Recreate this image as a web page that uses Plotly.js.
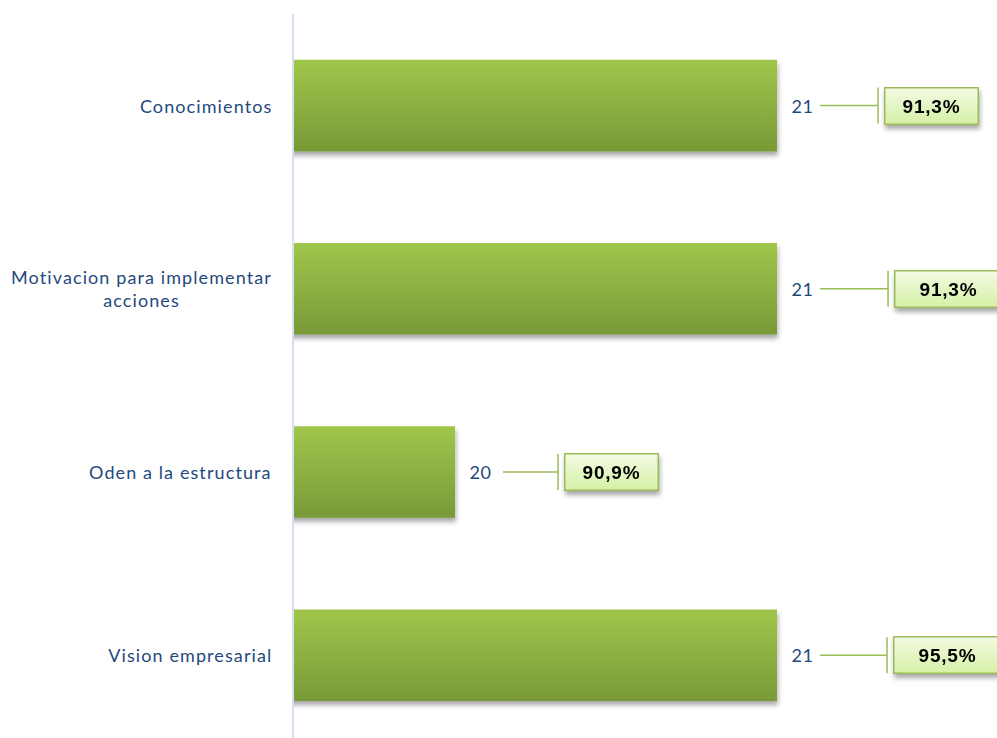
<!DOCTYPE html>
<html>
<head>
<meta charset="utf-8">
<script src="https://cdn.plot.ly/plotly-3.0.1.min.js"></script>
<style>
  html, body { margin: 0; padding: 0; background: #ffffff; overflow: hidden; }
  #chart { width: 997px; height: 738px; }
</style>
</head>
<body>
<div id="chart"></div>
<script>
// ---- data ----
const categories = ['Conocimientos', 'Motivacion para implementar<br>acciones', 'Oden a la estructura', 'Vision empresarial'];
const counts = [21, 21, 20, 21];
const percents = ['91,3%', '91,3%', '90,9%', '95,5%'];

// ---- style / position offsets (pixels from bar end) ----
const lineStartPx = [43, 43, 48, 43];
const tickPx = [101, 111, 103, 110];
const boxWidths = [90, 104, 90, 104];
const boxGapPx = 6;

const idx = categories.map((c, i) => i);
const green = '#9BBB59';
const labelColor = '#1F497D';

const trace = {
  type: 'bar',
  orientation: 'h',
  x: counts,
  y: idx,
  width: 0.5,
  marker: { color: '#8DB042', line: { width: 0 } },
  hoverinfo: 'skip'
};

const annotations = [];
const shapes = [];

categories.forEach((c, i) => {
  // category labels
  annotations.push({
    xref: 'paper', yref: 'y', x: 0, y: i,
    xanchor: 'right', yanchor: 'middle', xshift: -20,
    text: c, showarrow: false, align: 'center',
    font: { family: 'Lato, "Open Sans", sans-serif', size: 18, color: labelColor }
  });
  // value labels
  annotations.push({
    xref: 'x', yref: 'y', x: counts[i], y: i,
    xanchor: 'left', yanchor: 'middle', xshift: 13,
    text: String(counts[i]), showarrow: false,
    font: { family: 'Lato, "Open Sans", sans-serif', size: 18, color: labelColor }
  });
  // leader line
  shapes.push({
    type: 'line', xref: 'x', yref: 'y', xsizemode: 'pixel',
    xanchor: counts[i], x0: lineStartPx[i], x1: tickPx[i],
    y0: i, y1: i,
    line: { color: green, width: 1.5 }
  });
  // vertical tick
  shapes.push({
    type: 'line', xref: 'x', yref: 'y', xsizemode: 'pixel', ysizemode: 'pixel',
    xanchor: counts[i], x0: tickPx[i], x1: tickPx[i],
    yanchor: i, y0: -18, y1: 18,
    line: { color: green, width: 1.5 }
  });
  // percentage callout box
  annotations.push({
    xref: 'x', yref: 'y', x: counts[i], y: i,
    xanchor: 'left', yanchor: 'middle', xshift: tickPx[i] + boxGapPx,
    text: '<b>' + percents[i] + '</b>', showarrow: false,
    width: boxWidths[i], height: 33, borderpad: 1, borderwidth: 1.5,
    bordercolor: green, bgcolor: '#E2F5BF', align: 'center',
    font: { family: 'Arial, "Liberation Sans", sans-serif', size: 19, color: '#000000' }
  });
});

const layout = {
  width: 997, height: 738,
  margin: { l: 294, r: 0, t: 14, b: 0 },
  paper_bgcolor: '#ffffff', plot_bgcolor: '#ffffff',
  showlegend: false,
  xaxis: {
    range: [19.5, 21.683], showgrid: false, zeroline: false,
    showticklabels: false, ticks: '', showline: false, fixedrange: true
  },
  yaxis: {
    type: 'linear', range: [3.452, -0.5], showgrid: false, zeroline: false,
    showticklabels: false, ticks: '', showline: true, linecolor: '#D3E0F0', linewidth: 2,
    fixedrange: true
  },
  annotations: annotations,
  shapes: shapes
};

Plotly.newPlot('chart', [trace], layout, { displayModeBar: false, staticPlot: true }).then(gd => {
  const svg = gd.querySelector('svg.main-svg');
  const ns = 'http://www.w3.org/2000/svg';
  let defs = svg.querySelector('defs');
  if (!defs) { defs = document.createElementNS(ns, 'defs'); svg.insertBefore(defs, svg.firstChild); }
  defs.insertAdjacentHTML('beforeend',
    '<linearGradient id="barGrad" x1="0" y1="0" x2="0" y2="1">' +
      '<stop offset="0" stop-color="#9FC64B"/>' +
      '<stop offset="0.5" stop-color="#8DB042"/>' +
      '<stop offset="1" stop-color="#789937"/>' +
    '</linearGradient>' +
    '<linearGradient id="boxGrad" x1="0" y1="0" x2="0" y2="1">' +
      '<stop offset="0" stop-color="#F2FBE3"/>' +
      '<stop offset="1" stop-color="#D6F0A6"/>' +
    '</linearGradient>' +
    '<filter id="shadow" x="-10%" y="-20%" width="120%" height="160%">' +
      '<feGaussianBlur in="SourceAlpha" stdDeviation="2.5"/>' +
      '<feOffset dx="1" dy="4" result="ob"/>' +
      '<feComponentTransfer><feFuncA type="linear" slope="0.35"/></feComponentTransfer>' +
      '<feMerge><feMergeNode/><feMergeNode in="SourceGraphic"/></feMerge>' +
    '</filter>');
  gd.querySelectorAll('.bars .point path').forEach(p => {
    p.style.fill = 'url(#barGrad)';
    p.setAttribute('filter', 'url(#shadow)');
  });
  const spacing = ['1.1px', '0.6px', '0.8px'];
  const anns = gd.querySelectorAll('.annotation');
  anns.forEach((a, k) => {
    const t = a.querySelector('text');
    if (t) {
      const lines = t.querySelectorAll('tspan.line');
      const before = t.getBBox();
      t.style.letterSpacing = spacing[k % 3];
      const after = t.getBBox();
      if (k % 3 === 0) {
        // keep right edge fixed on the axis side
        const dx = (before.x + before.width) - (after.x + after.width);
        t.setAttribute('transform', 'translate(' + dx + ',0)');
      } else {
        const dx = (before.x + before.width / 2) - (after.x + after.width / 2);
        t.setAttribute('transform', 'translate(' + dx + ',0)');
      }
    }
    if (k % 3 === 2) {
      const bg = a.querySelector('rect.bg');
      if (bg) { bg.style.fill = 'url(#boxGrad)'; }
      a.setAttribute('filter', 'url(#shadow)');
    }
  });
});
</script>
</body>
</html>
